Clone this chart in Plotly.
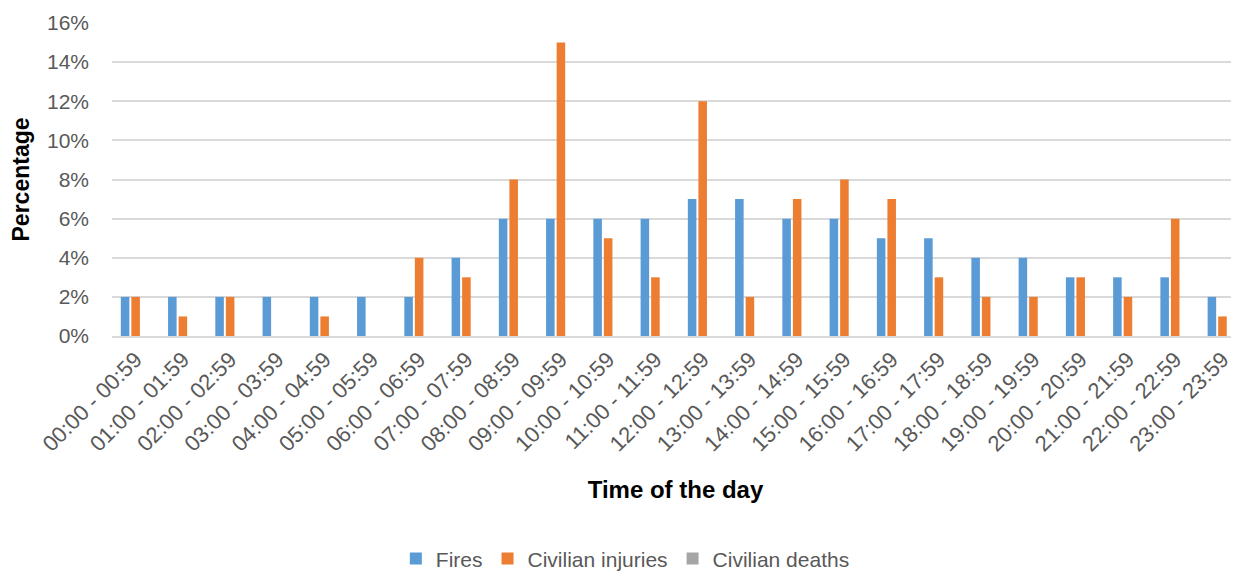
import plotly.graph_objects as go

categories = ["00:00 - 00:59", "01:00 - 01:59", "02:00 - 02:59", "03:00 - 03:59",
              "04:00 - 04:59", "05:00 - 05:59", "06:00 - 06:59", "07:00 - 07:59",
              "08:00 - 08:59", "09:00 - 09:59", "10:00 - 10:59", "11:00 - 11:59",
              "12:00 - 12:59", "13:00 - 13:59", "14:00 - 14:59", "15:00 - 15:59",
              "16:00 - 16:59", "17:00 - 17:59", "18:00 - 18:59", "19:00 - 19:59",
              "20:00 - 20:59", "21:00 - 21:59", "22:00 - 22:59", "23:00 - 23:59"]

fires = [0.02, 0.02, 0.02, 0.02, 0.02, 0.02, 0.02, 0.04, 0.06, 0.06, 0.06, 0.06,
         0.07, 0.07, 0.06, 0.06, 0.05, 0.05, 0.04, 0.04, 0.03, 0.03, 0.03, 0.02]
injuries = [0.02, 0.01, 0.02, 0.00, 0.01, 0.00, 0.04, 0.03, 0.08, 0.15, 0.05, 0.03,
            0.12, 0.02, 0.07, 0.08, 0.07, 0.03, 0.02, 0.02, 0.03, 0.02, 0.06, 0.01]
deaths = [0.0] * 24

y_ticks = [0, 0.02, 0.04, 0.06, 0.08, 0.10, 0.12, 0.14, 0.16]

FONT = "Liberation Sans"
GRAY_TXT = "#595959"

fig = go.Figure()
fig.add_trace(go.Bar(name="Fires", x=categories, y=fires,
                     marker=dict(color="#5B9BD5", line=dict(width=0))))
fig.add_trace(go.Bar(name="Civilian injuries", x=categories, y=injuries,
                     marker=dict(color="#ED7D31", line=dict(width=0))))
fig.add_trace(go.Bar(name="Civilian deaths", x=categories, y=deaths,
                     marker=dict(color="#A5A5A5", line=dict(width=0))))

fig.update_layout(
    width=1231, height=563,
    margin=dict(l=104, r=0, t=15, b=235, autoexpand=False),
    paper_bgcolor="white", plot_bgcolor="white",
    barmode="group", bargap=0.33, bargroupgap=0.19,
    font=dict(family=FONT, color=GRAY_TXT, size=21),
    showlegend=True,
    legend=dict(orientation="h", x=0.4555, xanchor="center", y=-0.712, yanchor="middle",
                font=dict(size=21, color=GRAY_TXT), itemsizing="constant",
                traceorder="normal", itemwidth=30),
    xaxis=dict(
        range=[-0.5, 23.35],
        tickangle=-45, tickfont=dict(size=22, color=GRAY_TXT),
        showgrid=False, showline=True, linecolor="#D9D9D9", linewidth=2,
        ticks="", automargin=False,
        title=dict(text="<b>Time of the day</b>", font=dict(size=24, color="#000000"),
                   standoff=26),
    ),
    yaxis=dict(
        range=[0, 0.16], tickvals=y_ticks, tickformat=".0%",
        tickfont=dict(size=21, color=GRAY_TXT),
        showgrid=True, gridcolor="#D9D9D9", gridwidth=2,
        zeroline=False, showline=False, ticks="", ticklabelstandoff=22,
        automargin=False,
        title=dict(text="<b>Percentage</b>", font=dict(size=23, color="#000000"),
                   standoff=12),
    ),
)

fig.write_html("out.html")
